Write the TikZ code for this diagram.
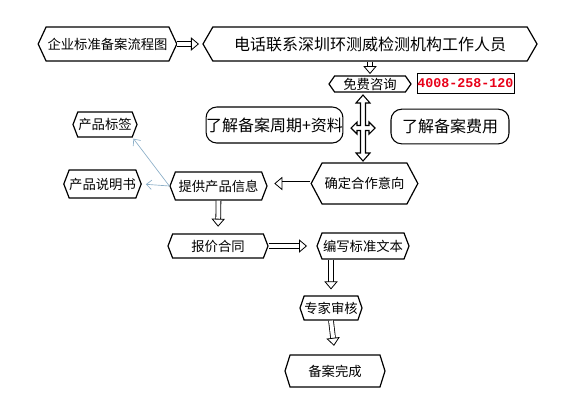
\documentclass[tikz,border=0pt]{standalone}
\usepackage{fontspec}
\setmainfont{Noto Sans CJK SC}
\newfontfamily\phonefont{Liberation Mono}
\usetikzlibrary{shapes.symbols, arrows.meta, positioning}
\definecolor{linkblue}{RGB}{140,175,200}
\definecolor{phonered}{RGB}{232,0,24}
\tikzset{
    hexbox/.style={signal, signal to=west and east, signal pointer angle=138, draw=black, line width=0.9pt, fill=white, inner sep=0pt, text centered, font=\fontsize{10pt}{12pt}\selectfont},
    roundbox/.style={rectangle, rounded corners=8pt, draw=black, line width=0.8pt, fill=white, inner sep=0pt, text centered, font=\fontsize{12pt}{14pt}\selectfont},
    hollow/.style={double, double distance=3pt, line width=0.6pt, -{Triangle[open, fill=white, width=10pt, length=6pt]}},
    thinarrow/.style={draw=linkblue, line width=0.5pt, -{Straight Barb[length=4pt, width=7pt]}}
}
\begin{document}
\begin{tikzpicture}[x=0.75pt, y=-0.75pt]
        \useasboundingbox (0,0) rectangle (574,412);

        \node (title) [hexbox, signal pointer angle=130, minimum width=104pt, minimum height=25.5pt] at (107.5,44) {企业标准备案流程图};
        \node (contact) [hexbox, signal pointer angle=120, minimum width=250.5pt, minimum height=25.5pt, font=\fontsize{12pt}{14pt}\selectfont] at (370,44) {电话联系深圳环测威检测机构工作人员};
        \node (zixun) [hexbox, signal pointer angle=110, minimum width=61.5pt, minimum height=12pt] at (370,84) {免费咨询};
        \node (phone) [rectangle, draw=black, line width=0.6pt, inner sep=0pt, minimum width=72.75pt, minimum height=15pt, font=\phonefont\bfseries\fontsize{10pt}{12pt}\selectfont, text=phonered] at (465.5,83) {4008-258-120};

        \node (cycle) [roundbox, minimum width=101pt, minimum height=27pt] at (274.5,125) {了解备案周期+资料};
        \node (fee) [roundbox, minimum width=88.5pt, minimum height=26pt] at (450,126.5) {了解备案费用};

        \node (intent) [hexbox, signal pointer angle=124, minimum width=80pt, minimum height=30.75pt] at (364.5,183.5) {确定合作意向};
        \node (info) [hexbox, minimum width=72.75pt, minimum height=21pt] at (218.5,186) {提供产品信息};
        \node (label) [hexbox, minimum width=48pt, minimum height=18.75pt] at (105,124.5) {产品标签};
        \node (manual) [hexbox, minimum width=54.75pt, minimum height=21pt] at (102.5,184) {产品说明书};

        \node (quote) [hexbox, minimum width=75pt, minimum height=18pt] at (218,246) {报价合同};
        \node (write) [hexbox, minimum width=69pt, minimum height=19.5pt] at (363,246) {编写标准文本};
        \node (review) [hexbox, signal pointer angle=142, minimum width=46.5pt, minimum height=18pt] at (331,308) {专家审核};
        \node (done) [hexbox, signal pointer angle=145, minimum width=75pt, minimum height=24pt] at (335,371) {备案完成};

        % hollow arrows
        \draw [hollow, shorten >=2.5pt] (title.east) -- (contact.west);
        \draw [hollow, shorten >=1pt] (contact.south) -- (zixun.north);
        \draw [hollow, shorten >=5pt] (intent.west) -- (intent.west -| info.east);
        \draw [hollow, shorten >=5pt] (info.south) -- (quote.north);
        \draw [hollow, shorten >=7pt] (quote.east) -- (quote.east -| write.west);
        \draw [hollow, shorten >=4.5pt] (review.north |- write.south) -- (review.north);
        \draw [hollow, shorten >=6.5pt] (review.south) -- (done.north);

        % up/down + left/right arrow
        \coordinate (cross) at (363,128);
        \draw [line width=0.8pt, fill=white, shift={(cross)}]
            (0,-33) -- (7,-25) -- (2.5,-25) -- (2.5,-2.5) -- (6,-2.5) -- (6,-6) -- (12,0)
            -- (6,6) -- (6,2.5) -- (2.5,2.5) -- (2.5,25) -- (7,25) -- (0,33) -- (-7,25)
            -- (-2.5,25) -- (-2.5,2.5) -- (-6,2.5) -- (-6,6) -- (-12,0) -- (-6,-6)
            -- (-6,-2.5) -- (-2.5,-2.5) -- (-2.5,-25) -- (-7,-25) -- cycle;

        % thin blue arrows
        \draw [thinarrow, shorten >=1pt] (info.west) -- (label.south east);
        \draw [thinarrow, shorten >=3pt] (info.west) -- (manual.east);
    \end{tikzpicture}
\end{document}
